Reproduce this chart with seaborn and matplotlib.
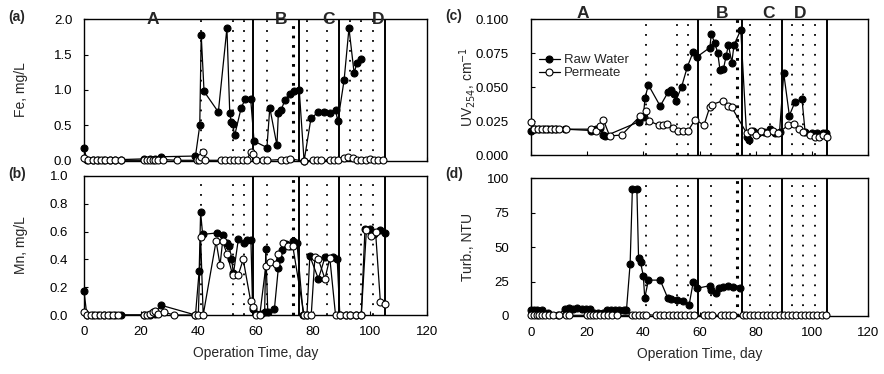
import matplotlib
matplotlib.use("Agg")
import matplotlib.pyplot as plt
import matplotlib.transforms as mtransforms
from matplotlib.ticker import FormatStrFormatter
import seaborn as sns

W, H = 884, 374

# ---- data ----
fe_raw_day = [0, 1, 3, 5, 7, 9, 11, 13, 21, 23, 25, 27, 39, 40.5, 41, 42, 47, 50, 51, 51.5, 52, 52.7,
              55, 56.5, 58.3, 59.5, 64, 65, 67.5, 68, 69, 70.3, 72, 73.5, 75.3, 77, 79.4, 82, 84, 86,
              88, 88.8, 91, 92.7, 94.5, 95.5, 97]
fe_raw = [0.18, 0.02, 0.02, 0.02, 0.02, 0.02, 0.02, 0.02, 0.03, 0.03, 0.03, 0.06, 0.07, 0.50, 1.78, 0.98,
          0.69, 1.87, 0.67, 0.55, 0.52, 0.36, 0.75, 0.88, 0.88, 0.28, 0.19, 0.75, 0.22, 0.68, 0.72, 0.86,
          0.95, 0.98, 1.00, 0.00, 0.60, 0.69, 0.69, 0.68, 0.72, 0.56, 1.14, 1.87, 1.24, 1.38, 1.44]
fe_perm_day = [0, 1.5, 3, 4.5, 6, 7.5, 9, 11, 13, 21, 22, 23, 24, 25, 26, 27.5, 32.5, 39.5, 40.3, 41,
               41.7, 42.3, 48, 49.5, 51, 52.5, 54, 55.5, 57, 58.3, 59, 60, 62.5, 64, 69, 70.5, 72, 77,
               80, 81.5, 83, 86, 87.5, 89, 91, 92.5, 94, 95.5, 97, 98.5, 100, 101.5, 103, 104.5]
fe_perm = [0.04, 0.02, 0.01, 0.01, 0.01, 0.01, 0.01, 0.01, 0.01, 0.01, 0.01, 0.01, 0.02, 0.01, 0.02,
           0.02, 0.01, 0.01, 0.02, 0.06, 0.12, 0.01, 0.01, 0.01, 0.01, 0.01, 0.01, 0.01, 0.02, 0.12,
           0.10, 0.01, 0.01, 0.01, 0.02, 0.01, 0.03, 0.00, 0.01, 0.01, 0.01, 0.01, 0.01, 0.02, 0.04,
           0.06, 0.04, 0.02, 0.02, 0.02, 0.03, 0.02, 0.02, 0.01]

mn_raw_day = [0, 1, 3, 5, 7, 9, 11, 13, 21, 23, 25, 27, 39, 40.3, 40.8, 41.5, 46.4, 48.7, 50, 50.8,
              51.6, 52.3, 54, 56, 57, 58.4, 59, 60, 62, 63.2, 63.6, 64.3, 66.6, 68, 68.5, 69.2, 70.5,
              72, 73, 74.5, 76.7, 78, 79, 82, 84.3, 87, 88.6, 89.5, 91.5, 93, 95, 97, 98.3, 100,
              101.5, 103.7, 105.2]
mn_raw = [0.17, 0.00, 0.00, 0.00, 0.00, 0.00, 0.00, 0.00, 0.00, 0.00, 0.01, 0.07, 0.00, 0.32, 0.74,
          0.58, 0.59, 0.575, 0.52, 0.50, 0.40, 0.30, 0.545, 0.52, 0.54, 0.54, 0.04, 0.01, 0.01, 0.02,
          0.475, 0.02, 0.04, 0.34, 0.40, 0.47, 0.51, 0.50, 0.53, 0.52, 0.00, 0.00, 0.425, 0.26, 0.415,
          0.415, 0.40, 0.00, 0.00, 0.00, 0.00, 0.00, 0.62, 0.62, 0.58, 0.61, 0.59]
mn_perm_day = [0, 1, 2.5, 4, 5.5, 7, 8.5, 10, 12, 21, 22, 23, 24, 25, 26, 28, 31.5, 39, 40, 40.8, 41.7,
               46.2, 47.6, 48.5, 50, 52, 54, 55.7, 58.3, 59, 60, 61.5, 63.6, 65, 67, 68, 69.7, 71.5,
               73, 77, 78, 79.5, 80.8, 82, 84.3, 86, 88, 89.5, 91.5, 93, 95, 97, 98.8, 100.3, 102,
               103.7, 105.2]
mn_perm = [0.02, 0.00, 0.00, 0.00, 0.00, 0.00, 0.00, 0.00, 0.00, 0.00, 0.00, 0.01, 0.02, 0.03, 0.01,
           0.02, 0.00, 0.00, 0.00, 0.56, 0.00, 0.53, 0.36, 0.53, 0.44, 0.29, 0.29, 0.40, 0.10, 0.06,
           0.00, 0.00, 0.35, 0.38, 0.37, 0.44, 0.52, 0.50, 0.50, 0.00, 0.00, 0.00, 0.42, 0.40, 0.26,
           0.41, 0.00, 0.00, 0.00, 0.00, 0.00, 0.00, 0.61, 0.57, 0.60, 0.09, 0.08]

uv_raw_day = [0, 1.5, 3, 4.5, 6, 7.5, 9, 12, 21.5, 23, 24.5, 25.8, 26.5, 38.5, 40, 40.6, 41.8, 46,
              48.9, 50, 51, 51.6, 53.6, 55.7, 57.8, 59, 63.7, 64.2, 65.5, 66.5, 67.3, 68.5, 69.5,
              70.3, 71.5, 72.3, 74.7, 76.8, 77.5, 79, 81, 83, 85, 87, 88.5, 90, 92, 94, 96.5, 97.6,
              100, 102, 104, 105]
uv_raw = [0.018, 0.019, 0.019, 0.019, 0.019, 0.019, 0.019, 0.019, 0.018, 0.019, 0.020, 0.015, 0.014,
          0.0245, 0.028, 0.042, 0.0515, 0.036, 0.0465, 0.048, 0.045, 0.040, 0.050, 0.065, 0.076,
          0.072, 0.079, 0.089, 0.082, 0.075, 0.0625, 0.063, 0.073, 0.081, 0.068, 0.081, 0.092,
          0.0135, 0.011, 0.018, 0.016, 0.017, 0.019, 0.016, 0.017, 0.060, 0.029, 0.039, 0.041,
          0.017, 0.016, 0.016, 0.016, 0.016]
uv_perm_day = [0, 1, 2.5, 4, 5.5, 7, 8.5, 10, 12.5, 21.5, 23, 24.5, 25.8, 28, 32.3, 38.9, 41, 42,
               45.5, 47, 48.5, 50.5, 52.5, 54, 56, 58.4, 61.6, 63.7, 64.3, 68.5, 70.3, 71.5, 76.8,
               78.5, 80, 82, 84, 86, 88, 91.6, 93.6, 95.5, 97, 99.5, 101, 102.5, 104, 105.5]
uv_perm = [0.024, 0.019, 0.019, 0.019, 0.019, 0.019, 0.019, 0.019, 0.019, 0.019, 0.018, 0.021,
           0.0257, 0.014, 0.0147, 0.0287, 0.032, 0.025, 0.022, 0.022, 0.023, 0.020, 0.018, 0.018,
           0.018, 0.026, 0.022, 0.0355, 0.037, 0.040, 0.036, 0.035, 0.016, 0.018, 0.015, 0.018,
           0.016, 0.018, 0.016, 0.022, 0.023, 0.019, 0.017, 0.015, 0.013, 0.013, 0.015, 0.013]

tb_raw_day = [0, 1, 2, 3, 4, 6, 9.7, 12, 13.5, 15, 16.5, 18, 19.5, 21, 22.5, 24, 25.5, 27, 28.5, 30,
              31.5, 33, 34, 35.3, 36.1, 37.7, 38.3, 39, 40, 40.5, 41.8, 46, 48.7, 50, 52, 54, 56.3,
              57.8, 59, 63.7, 64, 66, 67, 68.5, 70, 72, 74.5]
tb_raw = [4, 4, 4.5, 3.5, 4, 2, 1, 5, 5.5, 5, 5.5, 5, 5, 5, 2, 2, 2, 4, 4, 4, 4, 4.5, 4.5, 38, 92, 92,
          42, 39, 29, 13, 26, 26, 13, 12, 11.5, 11, 8, 25, 20, 22, 19, 17, 20, 21, 22, 21, 20]
tb_perm_day = [0, 1, 2, 3, 4, 5, 6.5, 8, 10, 12.5, 13.5, 20, 21, 22, 23, 24.5, 26, 27.5, 29, 30.5,
               36, 37, 38.5, 40, 41, 44.5, 46, 47.5, 49, 50.5, 52, 53.5, 55, 56.5, 58, 61.5, 63,
               64.5, 67.5, 69, 70.5, 72, 75.5, 76.5, 78, 79.5, 81, 82.5, 84, 85.5, 87, 88.5, 90,
               91.5, 93, 94.5, 96, 97.5, 99, 100.5, 102, 103.5, 105]
tb_perm = [0.5, 0.5, 0.5, 0.5, 0.5, 0.5, 0.5, 0.5, 1.0, 0.5, 0.5, 0.5, 0.5, 0.5, 0.5, 0.5, 0.5, 0.5,
           0.5, 0.5, 0.5, 0.5, 0.5, 0.5, 1.0, 0.5, 0.5, 0.5, 0.5, 0.5, 0.5, 0.5, 0.5, 0.5, 0.5, 0.5,
           0.5, 0.5, 0.5, 0.5, 0.5, 0.5, 0.5, 0.5, 0.5, 0.5, 0.5, 0.5, 0.5, 0.5, 0.5, 0.5, 0.5, 0.5,
           0.5, 0.5, 0.5, 0.5, 0.5, 0.5, 0.5, 0.5, 0.5]

# phase boundaries (solid) and backwash / cleaning events (dotted)
phase_days = [59.3, 75.3, 89.3, 105.3]
event_days = [41, 52, 56, 64, 78, 85, 93, 97, 101]
event_thick_day = 73.2
phase_labels = ["A", "B", "C", "D"]
phase_label_x_left = [24, 69, 85.5, 103]
phase_label_x_right = [18.6, 68, 84.5, 96]


def px_rect(x0, y0, x1, y1):
    return [x0 / W, 1 - y1 / H, (x1 - x0) / W, (y1 - y0) / H]


sns.set_style("ticks")
plt.rcParams['font.family'] = ['Liberation Sans', 'DejaVu Sans']
plt.rcParams['axes.linewidth'] = 1.0

fig = plt.figure(figsize=(W / 100, H / 100), dpi=100)
ax_a = fig.add_axes(px_rect(84, 19, 427, 161))
ax_b = fig.add_axes(px_rect(84, 176, 427, 315))
ax_c = fig.add_axes(px_rect(531, 19, 868, 155))
ax_d = fig.add_axes(px_rect(531, 178, 868, 316))

panels = [
    (ax_a, fe_raw_day, fe_raw, fe_perm_day, fe_perm, (0, 2.0), [0, 0.5, 1.0, 1.5, 2.0], '%.1f', "Fe, mg/L", 8.5),
    (ax_b, mn_raw_day, mn_raw, mn_perm_day, mn_perm, (0, 1.0), [0, 0.2, 0.4, 0.6, 0.8, 1.0], '%.1f', "Mn, mg/L", 11.5),
    (ax_c, uv_raw_day, uv_raw, uv_perm_day, uv_perm, (0, 0.1), [0, 0.025, 0.05, 0.075, 0.1], '%.3f', "UV$_{254}$, cm$^{-1}$", 16),
    (ax_d, tb_raw_day, tb_raw, tb_perm_day, tb_perm, (0, 100), [0, 25, 50, 75, 100], '%d', "Turb., NTU", 16),
]

for ax, rd, rv, pd_, pv, ylim, yticks, fmt, ylabel, ypad in panels:
    for d in phase_days:
        ax.axvline(d, color='black', lw=1.4, zorder=1)
    for d in event_days:
        ax.axvline(d, color='black', lw=1.3, ls=(0, (1, 4.5)), zorder=1)
    ax.axvline(event_thick_day, color='black', lw=2.2, ls=(0, (0.9, 2.2)), zorder=1)

    sns.lineplot(x=rd, y=rv, ax=ax, color='black', lw=0.9, marker='o', markersize=5,
                 markerfacecolor='black', markeredgecolor='black', markeredgewidth=0.8,
                 estimator=None, sort=False, clip_on=False, zorder=3, label="Raw Water")
    sns.lineplot(x=pd_, y=pv, ax=ax, color='black', lw=0.9, marker='o', markersize=5,
                 markerfacecolor='white', markeredgecolor='black', markeredgewidth=0.8,
                 estimator=None, sort=False, clip_on=False, zorder=4, label="Permeate")

    ax.set_xlim(0, 120)
    ax.set_ylim(*ylim)
    ax.set_yticks(yticks)
    ax.set_xticks([0, 20, 40, 60, 80, 100, 120])
    ax.yaxis.set_major_formatter(FormatStrFormatter(fmt))
    ax.tick_params(direction='in', length=3, width=0.8, labelsize=9.5, colors='black')
    ax.tick_params(axis='y', pad=ypad)
    ax.tick_params(axis='x', pad=8)
    ax.set_ylabel(ylabel, fontsize=10)
    for s in ax.spines.values():
        s.set_visible(True)
        s.set_color('black')
    if ax.get_legend() is not None:
        ax.get_legend().remove()

ax_a.yaxis.set_label_coords(-0.164, 0.5)
ax_b.yaxis.set_label_coords(-0.162, 0.5)
ax_c.yaxis.set_label_coords(-0.158, 0.5)
ax_d.yaxis.set_label_coords(-0.167, 0.5)

for ax in (ax_a, ax_c):
    ax.set_xlabel("")
    ax.tick_params(axis='x', labelbottom=False)
for ax in (ax_b, ax_d):
    ax.set_xlabel("Operation Time, day", fontsize=10, labelpad=6)

# phase letters on the top frame
for ax, xs, yy in ((ax_a, phase_label_x_left, 1.0), (ax_c, phase_label_x_right, 1.04)):
    trans = mtransforms.blended_transform_factory(ax.transData, ax.transAxes)
    for lab, x in zip(phase_labels, xs):
        ax.text(x, yy, lab, transform=trans, ha='center', va='center',
                fontsize=12.5, fontweight='bold', zorder=6)

# legend in panel (c)
handles, labels = ax_c.get_legend_handles_labels()
ax_c.legend(handles, labels, loc='upper left', bbox_to_anchor=(0.0, 0.80), frameon=False,
            fontsize=9.5, handlelength=1.6, handletextpad=0.3, labelspacing=0.05,
            borderaxespad=0.2)

# panel tags
for tag, x, y in (("(a)", 17, 17), ("(b)", 17, 174), ("(c)", 454, 16), ("(d)", 454, 174)):
    fig.text(x / W, 1 - y / H, tag, ha='center', va='center', fontsize=10, fontweight='bold')

fig.savefig("out.png", dpi=100)
